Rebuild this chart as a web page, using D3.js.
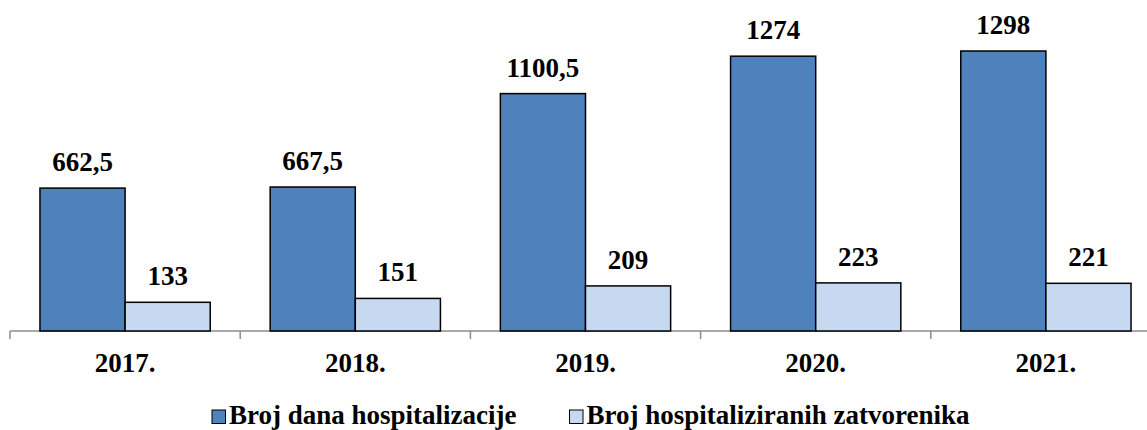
<!DOCTYPE html>
<html>
<head>
<meta charset="utf-8">
<script src="https://cdn.jsdelivr.net/npm/d3@7"></script>
<style>
  html, body { margin: 0; padding: 0; background: #fff; }
  svg { display: block; }
</style>
</head>
<body>
<svg id="chart" width="1147" height="430"></svg>
<script>
// Years on the category axis
const years = ["2017.", "2018.", "2019.", "2020.", "2021."];
// Series names (legend)
const seriesNames = ["Broj dana hospitalizacije", "Broj hospitaliziranih zatvorenika"];
// Series values
const hospitalDays = [662.5, 667.5, 1100.5, 1274, 1298];
const hospitalizedInmates = [133, 151, 209, 223, 221];
// Value label texts (decimal comma)
const dayLabels = ["662,5", "667,5", "1100,5", "1274", "1298"];
const inmateLabels = ["133", "151", "209", "223", "221"];

const colors = ["#4F81BD", "#C6D9F1"];
const FONT = "'Liberation Serif', 'Times New Roman', Times, serif";

const svg = d3.select("#chart");
const baseY = 331;

const x0 = d3.scaleBand().domain(years).range([10, 1161]).padding(0);
const x1 = d3.scaleBand().domain(seriesNames)
  .range([0, x0.bandwidth()]).paddingInner(0).paddingOuter(0.352);
const y = d3.scaleLinear().domain([0, 1400]).range([baseY, 29]);

const rows = years.map((yr, i) => ({
  year: yr,
  vals: [
    { s: seriesNames[0], v: hospitalDays[i], label: dayLabels[i], c: colors[0] },
    { s: seriesNames[1], v: hospitalizedInmates[i], label: inmateLabels[i], c: colors[1] }
  ]
}));

// Axis line and tick marks
svg.append("line")
  .attr("x1", 10).attr("x2", 1147)
  .attr("y1", baseY).attr("y2", baseY)
  .attr("stroke", "#8c8c8c").attr("stroke-width", 1.5);

const axis = d3.axisBottom(x0).tickSize(0).tickFormat(d => d);
const ax = svg.append("g").attr("transform", `translate(0,${baseY})`).call(axis);
ax.select(".domain").remove();
ax.selectAll("text")
  .attr("dy", null)
  .attr("y", 41)
  .style("font-size", "27px")
  .style("font-family", FONT)
  .style("font-weight", "bold")
  .attr("fill", "#000");

svg.append("g").selectAll("line")
  .data(years).join("line")
  .attr("x1", d => x0(d)).attr("x2", d => x0(d))
  .attr("y1", baseY).attr("y2", baseY + 8)
  .attr("stroke", "#8c8c8c").attr("stroke-width", 1.5);

// Bars
const groups = svg.append("g").selectAll("g")
  .data(rows).join("g")
  .attr("transform", d => `translate(${x0(d.year)},0)`);

groups.selectAll("rect")
  .data(d => d.vals).join("rect")
  .attr("x", d => x1(d.s))
  .attr("y", d => y(d.v))
  .attr("width", x1.bandwidth())
  .attr("height", d => baseY - y(d.v))
  .attr("fill", d => d.c)
  .attr("stroke", "#000")
  .attr("stroke-width", 1.5);

groups.selectAll("text.val")
  .data(d => d.vals).join("text")
  .attr("class", "val")
  .attr("x", d => x1(d.s) + x1.bandwidth() / 2)
  .attr("y", d => y(d.v) - 17)
  .attr("text-anchor", "middle")
  .style("font-family", FONT)
  .style("font-weight", "bold")
  .style("font-size", "27px")
  .attr("fill", "#000")
  .text(d => d.label);

// Legend
const legend = svg.append("g");
let lx = 212;
seriesNames.forEach((name, i) => {
  legend.append("rect")
    .attr("x", lx).attr("y", 410).attr("width", 13.5).attr("height", 13.5)
    .attr("fill", colors[i]).attr("stroke", "#000").attr("stroke-width", 1);
  const t = legend.append("text")
    .attr("x", lx + 17).attr("y", 424)
    .style("font-family", FONT)
    .style("font-weight", "bold")
    .style("font-size", "27px")
    .attr("fill", "#000")
    .text(name);
  lx = lx + 17 + t.node().getComputedTextLength() + 53;
});
</script>
</body>
</html>
